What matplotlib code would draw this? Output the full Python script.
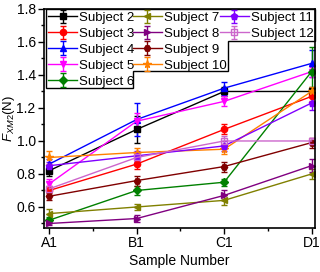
import numpy as np
import matplotlib
matplotlib.use("Agg")
import matplotlib.pyplot as plt
from matplotlib.legend import Legend
from matplotlib.patches import Polygon

plt.rcParams['font.family'] = ['Liberation Sans', 'DejaVu Sans']
plt.rcParams['mathtext.fontset'] = 'custom'
plt.rcParams['mathtext.rm'] = 'Liberation Sans'
plt.rcParams['mathtext.it'] = 'Liberation Sans:italic'

samples = ['A1', 'B1', 'C1', 'D1']
subjects = ['Subject 2', 'Subject 3', 'Subject 4', 'Subject 5', 'Subject 6', 'Subject 7',
            'Subject 8', 'Subject 9', 'Subject 10', 'Subject 11', 'Subject 12']

s2 = [0.82, 1.07, 1.30, 1.30]
s3 = [0.70, 0.86, 1.07, 1.27]
s4 = [0.86, 1.13, 1.32, 1.47]
s5 = [0.74, 1.12, 1.24, 1.42]
s6 = [0.52, 0.70, 0.75, 1.42]
s7 = [0.56, 0.60, 0.64, 0.80]
s8 = [0.50, 0.53, 0.67, 0.85]
s9 = [0.665, 0.76, 0.845, 0.99]
s10 = [0.90, 0.93, 0.95, 1.30]
s11 = [0.85, 0.91, 0.97, 1.23]
s12 = [0.71, 0.90, 1.00, 1.00]

e2 = [0.03, 0.08, 0.03, 0.03]
e3 = [0.03, 0.03, 0.03, 0.03]
e4 = [0.03, 0.10, 0.04, 0.08]
e5 = [0.03, 0.05, 0.03, 0.03]
e6 = [0.02, 0.03, 0.02, 0.15]
e7 = [0.03, 0.02, 0.03, 0.03]
e8 = [0.01, 0.02, 0.03, 0.04]
e9 = [0.02, 0.03, 0.03, 0.03]
e10 = [0.04, 0.03, 0.03, 0.03]
e11 = [0.02, 0.03, 0.03, 0.04]
e12 = [0.02, 0.03, 0.03, 0.02]

values = [s2, s3, s4, s5, s6, s7, s8, s9, s10, s11, s12]
errors = [e2, e3, e4, e5, e6, e7, e8, e9, e10, e11, e12]
colors = ['black', '#FF0000', '#0000FF', '#FF00FF', '#008000', '#808000',
          '#800080', '#800000', '#FF8000', '#8000FF', '#CC66CC']
markers = ['s', 'o', '^', 'v', 'D', '<', '>', 'H', '*', 'p', 's']

fig = plt.figure(figsize=(3.2, 2.72), dpi=100)
ax = fig.add_axes([0.1375, 0.162, 0.8469, 0.805])

x = np.arange(len(samples))
handles = []
for i in range(len(subjects)):
    mfc = 'none' if i == 10 else colors[i]
    ms = 5.5 if markers[i] == '*' else 4.5
    h = ax.errorbar(x, values[i], yerr=errors[i], color=colors[i], marker=markers[i],
                    ms=ms, mfc=mfc, lw=1, elinewidth=1, capsize=2.5, label=subjects[i])
    handles.append(h)

ax.set_xlim(-0.06, 3.04)
ax.set_ylim(0.473, 1.8)
ax.set_xticks(x)
ax.set_xticklabels(samples)
ax.set_xticks([0.5, 1.5, 2.5], minor=True)
ax.set_yticks(np.arange(0.6, 1.81, 0.2))
ax.set_yticks(np.arange(0.5, 1.81, 0.1), minor=True)
ax.tick_params(labelsize=10, length=4, width=1, pad=2)
ax.tick_params(which='minor', length=2, width=1)
for sp in ax.spines.values():
    sp.set_linewidth(1.2)

ax.set_xlabel('Sample Number', fontsize=10, labelpad=3)
ax.set_ylabel(r'$\mathit{F}_{\mathit{XM2}}$(N)', fontsize=9.5)
ax.yaxis.set_label_coords(-0.1, 0.5)

# legend: three columns placed like the original (5 / 4 / 2 entries)
groups = [(0, 5, 0.005), (5, 9, 0.318), (9, 11, 0.638)]
for a, b, xpos in groups:
    leg = Legend(ax, handles[a:b], subjects[a:b], loc='upper left',
                 bbox_to_anchor=(xpos, 1.0), frameon=False, fontsize=9.5,
                 handlelength=2.2, handletextpad=0.15, labelspacing=0.28,
                 borderpad=0.2, borderaxespad=0.0)
    ax.add_artist(leg)

# stepped legend outline
pts = [(46, 9), (315, 9), (315, 41), (228, 41), (228, 71), (133, 71), (133, 88), (46, 88)]
pts = [((px - 44) / 271, (228 - py) / 219) for px, py in pts]
ax.add_patch(Polygon(pts, closed=True, fill=False, edgecolor='black', lw=1,
                     transform=ax.transAxes, clip_on=False))

fig.savefig('out.png', dpi=100)
